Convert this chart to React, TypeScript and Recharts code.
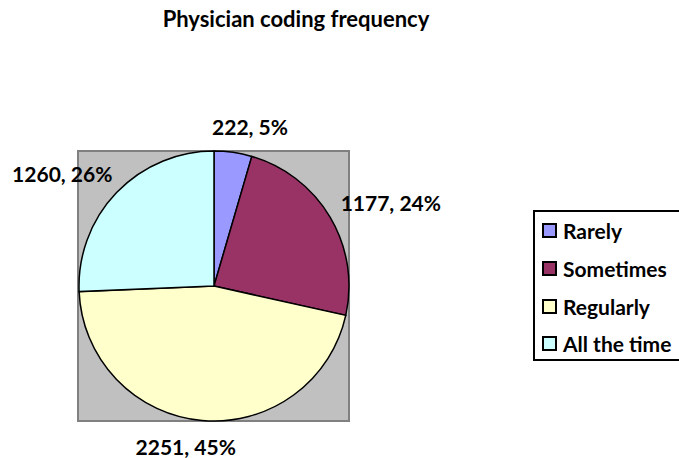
import { Cell, Customized, Legend, Pie, PieChart } from "recharts";

const categories = ["Rarely", "Sometimes", "Regularly", "All the time"];
const counts = [222, 1177, 2251, 1260];
const percentLabels = ["5%", "24%", "45%", "26%"];
const colors = ["#9999FF", "#993366", "#FFFFCC", "#CCFFFF"];

const data = categories.map((name, i) => ({
  name,
  value: counts[i],
  pct: percentLabels[i],
  fill: colors[i],
}));

const W = 679;
const H = 458;
const CX = 214;
const CY = 286;
const R = 135;
const FONT = "Lato, 'Open Sans', sans-serif";
const FS = 21;
const RAD = Math.PI / 180;

function PlotArea() {
  return (
    <g>
      <rect
        x={CX - R - 1}
        y={CY - R}
        width={2 * R + 1}
        height={2 * R}
        fill="#C0C0C0"
        stroke="#808080"
        strokeWidth={2}
      />
      <text
        x={296}
        y={27}
        textAnchor="middle"
        fontFamily={FONT}
        fontWeight={700}
        fontSize={FS + 1}
        fill="#000"
      >
        Physician coding frequency
      </text>
    </g>
  );
}

// outside-end label, box pushed off the anchor point like excel does
function renderLabel(props: any) {
  const { cx, cy, midAngle, outerRadius, payload } = props;
  const text = `${payload.value}, ${payload.pct}`;
  const w = text.length * 11;
  const h = 18;
  const c = Math.cos(-midAngle * RAD);
  const s = Math.sin(-midAngle * RAD);
  const px = cx + (outerRadius + 17) * c;
  const py = cy + (outerRadius + 17) * s;
  const x = px + (w / 2) * Math.sign(c) * Math.sqrt(Math.abs(c));
  const y = py + (h / 2) * Math.sign(s) * Math.sqrt(Math.abs(s));
  return (
    <text
      x={x}
      y={y}
      textAnchor="middle"
      dominantBaseline="central"
      fontFamily={FONT}
      fontWeight={700}
      fontSize={FS}
      fill="#000"
    >
      {text}
    </text>
  );
}

function LegendBox() {
  return (
    <div
      style={{
        width: 170,
        height: 151,
        border: "2px solid #000",
        boxSizing: "border-box",
        background: "#fff",
        paddingTop: 0,
        paddingLeft: 7,
        fontFamily: FONT,
        fontWeight: 700,
        fontSize: FS,
        lineHeight: 1,
      }}
    >
      {data.map((d) => (
        <div
          key={d.name}
          style={{ display: "flex", alignItems: "center", height: 37.7 }}
        >
          <span
            style={{
              display: "inline-block",
              width: 11,
              height: 11,
              background: d.fill,
              border: "2px solid #000",
              marginRight: 6,
              flexShrink: 0,
            }}
          />
          <span style={{ whiteSpace: "nowrap" }}>{d.name}</span>
        </div>
      ))}
    </div>
  );
}

export default function App() {
  return (
    <div
      style={{
        position: "fixed",
        left: 0,
        top: 0,
        width: W,
        height: H,
        overflow: "hidden",
        background: "#fff",
      }}
    >
      <PieChart width={W} height={H} margin={{ top: 0, right: 0, bottom: 0, left: 0 }}>
        <Customized component={PlotArea} />
        <Pie
          data={data}
          dataKey="value"
          nameKey="name"
          cx={CX}
          cy={CY}
          outerRadius={R}
          startAngle={90}
          endAngle={-270}
          stroke="#000"
          strokeWidth={1.5}
          label={renderLabel}
          labelLine={false}
          isAnimationActive={false}
        >
          {data.map((d) => (
            <Cell key={d.name} fill={d.fill} />
          ))}
        </Pie>
        <Legend
          content={<LegendBox />}
          layout="vertical"
          wrapperStyle={{ left: 533, top: 210, width: 170 }}
        />
      </PieChart>
    </div>
  );
}
